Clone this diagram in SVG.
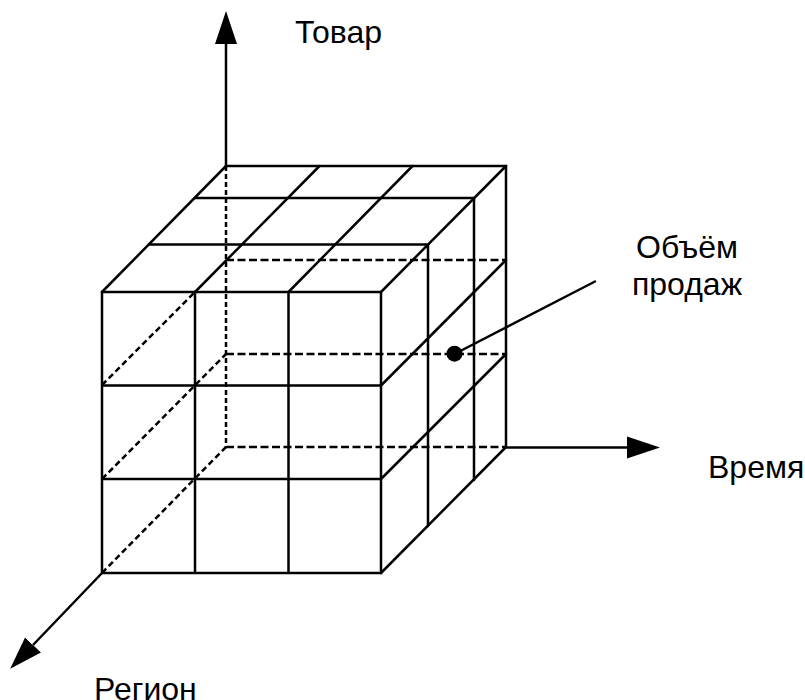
<svg xmlns="http://www.w3.org/2000/svg" width="805" height="700" viewBox="0 0 805 700">
<style>
.s{fill:none;stroke:#000;stroke-width:2.500;stroke-linecap:round}
.dh{fill:none;stroke:#000;stroke-width:2.500;stroke-dasharray:8 3.500}
.dv{fill:none;stroke:#000;stroke-width:2.500;stroke-dasharray:5 3}
.dd{fill:none;stroke:#000;stroke-width:2.500;stroke-dasharray:6 3.500}
.a{fill:none;stroke:#000;stroke-width:2.500;marker-end:url(#h)}
text{font-family:"Liberation Sans",Arial,sans-serif;font-size:32px;fill:#000}
</style>
<defs>
<marker id="h" markerUnits="userSpaceOnUse" markerWidth="34" markerHeight="24" viewBox="0 -12 34 24" refX="0" refY="0" orient="auto"><path d="M0,-11L33,0L0,11Z" fill="#000"/></marker>
</defs>
<rect width="805" height="700" fill="#fff"/>
<g id="connectors">
<g id="hidden-edges">
<path class="dv" d="M226,166V447"/>
<path class="dh" d="M226,260H506M226,354H506M226,447H506"/>
<path class="dd" d="M102,385L195,292M102,479L226,354M102,573L226,447"/>
</g>
<g id="cube">
<path class="s" d="M102,292H381V573H102ZM102,385.500H381M102,479H381M195,292V573M288.500,292V573"/>
<path class="s" d="M226,166H506V447M195,198H474V480M149,244.500H428V526"/>
<path class="s" d="M102,292L226,166M195,292L319.500,166M288.500,292L412.500,166M381,292L506,166"/>
<path class="s" d="M381,385.500L506,260M381,479L506,354M381,573L506,447"/>
</g>
<g id="axes">
<path class="a" d="M226,166V44"/>
<path class="a" d="M506,447.500H627"/>
<path class="a" d="M102,573L33,645"/>
</g>
<path id="leader" class="s" d="M454.500,354L595,281.500"/>
</g>
<g id="sales-point"><circle cx="454.500" cy="353.700" r="8" fill="#000"/></g>
<g id="label-product"><text x="295" y="43">Товар</text></g>
<g id="label-time"><text x="708" y="478">Время</text></g>
<g id="label-sales"><text x="687" y="258" text-anchor="middle">Объём</text><text x="687" y="295" text-anchor="middle">продаж</text></g>
<g id="label-region"><text x="94" y="700">Регион</text></g>
</svg>
